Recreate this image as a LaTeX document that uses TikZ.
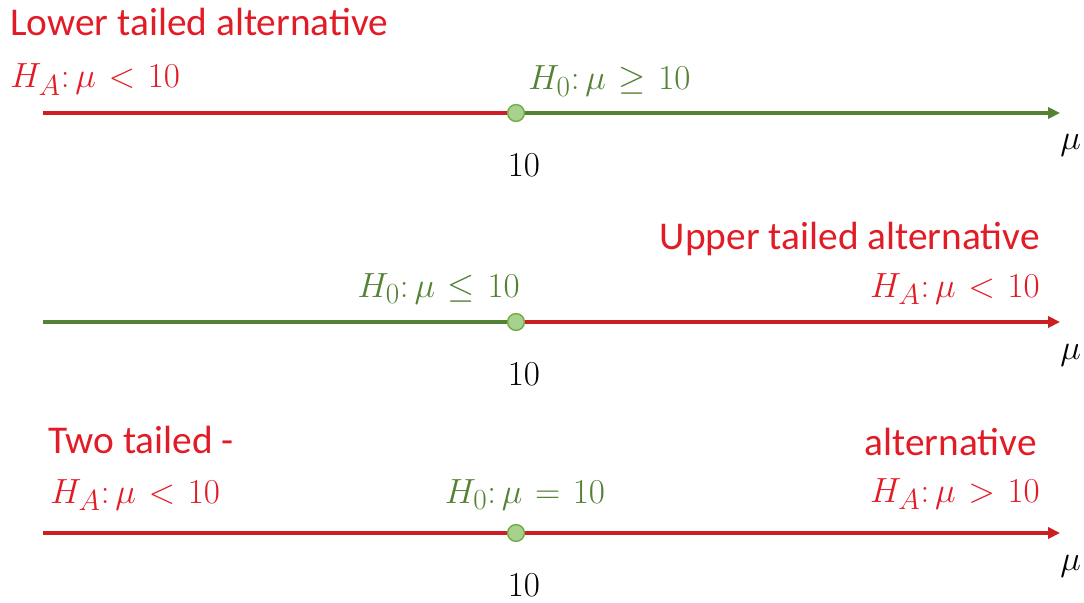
\documentclass[tikz,border=0pt]{standalone}
\usepackage{amsmath,amssymb}
\usepackage[no-math]{fontspec}
\newfontfamily\calib{Carlito}
\usetikzlibrary{arrows.meta,positioning}
\definecolor{altRojo}  {RGB}{226, 28, 38}
\definecolor{lineRojo} {RGB}{205, 30, 35}
\definecolor{nulVerde} {RGB}{ 84,130, 53}
\definecolor{dotVerde} {RGB}{169,209,142}
\definecolor{dotBorde} {RGB}{112,173, 71}
\thickmuskip=6.5mu plus 2mu

\begin{document}
\begin{tikzpicture}[x=0.025cm, y=-0.025cm,
  every node/.style={inner sep=0pt, font=\fontsize{28}{32}\selectfont},
  lbl/.style={text=altRojo, font=\fontsize{28}{32}\selectfont\calib},
  alt/.style={text=altRojo},
  nul/.style={text=nulVerde},
  redln/.style={draw=lineRojo, line width=2.3pt},
  grnln/.style={draw=nulVerde, line width=2.3pt},
  tip/.style={-{Triangle[length=8.5pt,width=8pt]}},
  dot/.style={circle, draw=dotBorde, fill=dotVerde, line width=1pt, minimum size=0.42cm}]
\useasboundingbox (0,0) rectangle (1084,603);

% lower tailed
\coordinate (s1) at (43,113);
\coordinate (e1) at (1060,113);
\node[dot] (d1) at (516,113) {};
\draw[redln] (s1) -- (d1);
\draw[grnln, tip] (d1) -- (e1);
\node[lbl, anchor=base west] (lowT) at (10,36) {Lower tailed alternative};
\node[alt, anchor=base west] (ha1) at (10,88) {$H_A{:}\,\mu<10$};
\node[nul, anchor=base west] (h01) at (528,90) {$H_0{:}\,\mu\geq10$};
\node[anchor=base] (ten1) at (524,177) {$10$};
\node[anchor=base west] (mu1) at (1060,150) {$\mu$};

% upper tailed
\coordinate (s2) at (43,322);
\coordinate (e2) at (1060,322);
\node[dot] (d2) at (516,322) {};
\draw[grnln] (s2) -- (d2);
\draw[redln, tip] (d2) -- (e2);
\node[lbl, anchor=base east] (upT) at (1040,250) {Upper tailed alternative};
\node[alt, anchor=base east] (ha2) at (1040,297) {$H_A{:}\,\mu<10$};
\node[nul, anchor=base east] (h02) at (520,297) {$H_0{:}\,\mu\leq10$};
\node[anchor=base] (ten2) at (524,385) {$10$};
\node[anchor=base west] (mu2) at (1060,359) {$\mu$};

% two tailed
\coordinate (s3) at (43,533);
\coordinate (e3) at (1060,533);
\node[dot] (d3) at (516,533) {};
\draw[redln] (s3) -- (d3);
\draw[redln, tip] (d3) -- (e3);
\node[lbl, anchor=base west] (twoT) at (48,453) {Two tailed -};
\node[alt, anchor=base west] (ha3) at (50,503) {$H_A{:}\,\mu<10$};
\node[lbl, anchor=base east] (altT) at (1037,455) {alternative};
\node[alt, anchor=base east] (ha4) at (1040,502) {$H_A{:}\,\mu>10$};
\node[nul, anchor=base] (h03) at (525,503) {$H_0{:}\,\mu=10$};
\node[anchor=base] (ten3) at (524,596) {$10$};
\node[anchor=base west] (mu3) at (1060,570) {$\mu$};
\end{tikzpicture}
\end{document}
